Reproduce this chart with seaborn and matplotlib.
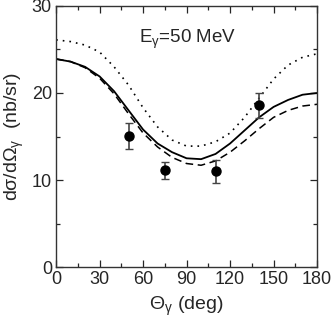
import numpy as np
import pandas as pd
import seaborn as sns
import matplotlib
matplotlib.use("Agg")
import matplotlib.pyplot as plt
from matplotlib.ticker import MultipleLocator

# theory curves, every 10 deg
theta = [0, 10, 20, 30, 40, 50, 60, 70, 80, 90, 100, 110, 120, 130, 140, 150, 160, 170, 180]
solid = [23.9, 23.6, 23.0, 21.9, 20.2, 18.0, 15.8, 14.2, 13.2, 12.5, 12.4, 13.0, 14.2, 15.7, 17.2, 18.4, 19.2, 19.8, 20.0]
dashed = [23.9, 23.6, 22.9, 21.7, 19.9, 17.6, 15.4, 13.8, 12.6, 11.9, 11.7, 12.2, 13.2, 14.5, 15.9, 17.2, 18.0, 18.5, 18.7]
dotted = [26.1, 25.9, 25.5, 24.7, 23.0, 20.9, 18.3, 16.1, 14.6, 13.9, 13.9, 14.4, 15.4, 17.2, 19.4, 21.6, 23.2, 24.1, 24.5]

# data points
exp_theta = [50, 75, 110, 140]
exp_val = [15.1, 11.1, 11.0, 18.6]
exp_err = [1.5, 0.95, 1.3, 1.45]

sns.set_style("ticks")
plt.rcParams['font.family'] = ['Liberation Sans', 'DejaVu Sans']
plt.rcParams['mathtext.fontset'] = 'custom'
plt.rcParams['mathtext.rm'] = 'Liberation Sans'
plt.rcParams['mathtext.it'] = 'Liberation Sans'

df = pd.DataFrame({'theta': theta, 'solid': solid, 'dashed': dashed, 'dotted': dotted})

fig = plt.figure(figsize=(3.32, 3.27), dpi=100)
ax = fig.add_axes([0.169, 0.183, 0.786, 0.799])

sns.lineplot(data=df, x='theta', y='solid', ax=ax, color='black', lw=1.3)
sns.lineplot(data=df, x='theta', y='dashed', ax=ax, color='black', lw=1.1, linestyle=(0, (5, 3)))
sns.lineplot(data=df, x='theta', y='dotted', ax=ax, color='black', lw=1.2, linestyle=(0, (1, 3)))
ax.errorbar(exp_theta, exp_val, yerr=exp_err, fmt='o', color='black', ms=6.5,
            ecolor='#444444', elinewidth=1.2, capsize=3, capthick=1.0)

ax.set_xlim(0, 180)
ax.set_ylim(0, 30)
ax.xaxis.set_major_locator(MultipleLocator(30))
ax.xaxis.set_minor_locator(MultipleLocator(15))
ax.yaxis.set_major_locator(MultipleLocator(10))
ax.yaxis.set_minor_locator(MultipleLocator(5))
ax.tick_params(which='both', direction='in', top=True, right=True, labelsize=13, width=0.9)
ax.tick_params(which='major', length=5, pad=3)
ax.tick_params(which='minor', length=3)
for s in ax.spines.values():
    s.set_linewidth(1.0)
    s.set_color('#333333')

ax.set_xlabel(r'$\Theta_\gamma$ (deg)', fontsize=14, labelpad=5)
ax.set_ylabel(r'd$\sigma$/d$\Omega_\gamma$  (nb/sr)', fontsize=14, labelpad=4)
ax.text(57, 26.1, r'E$_\gamma$=50 MeV', fontsize=13.5, va='center', ha='left')

fig.savefig('out.png', dpi=100)
